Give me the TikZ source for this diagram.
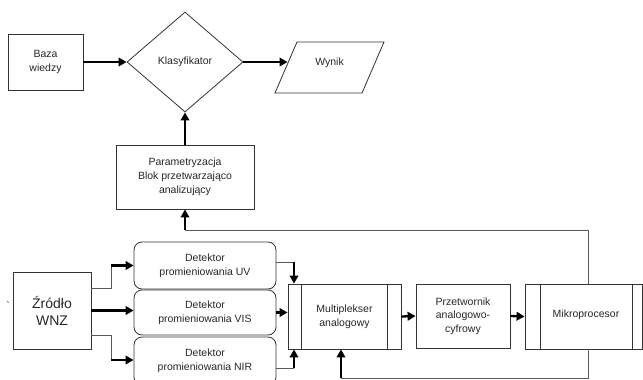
\documentclass[tikz,border=0pt]{standalone}
\usepackage{fontspec}
\setmainfont{Liberation Sans}
\usetikzlibrary{shapes.geometric,arrows.meta,calc}
\begin{document}
\begin{tikzpicture}[x=1pt,y=-1pt,
  txt/.style={font=\fontsize{10.5}{14}\selectfont,align=center,text=black!85},
  box/.style={txt,draw=black!80,line width=0.8pt,rectangle,inner sep=0pt},
  rbox/.style={box,rounded corners=8pt},
  wire/.style={draw=black!65,line width=0.9pt},
  arr/.style={draw=black,line width=2.3pt,-{Triangle[length=8pt,width=8.5pt]}}
]
\useasboundingbox (0,0) rectangle (643,380);
\clip (0,0) rectangle (643,380);

% top row
\node[box,minimum width=75pt,minimum height=56pt] (baza) at (45.5,62) {Baza\\wiedzy};
\node[txt,draw=black!80,line width=0.8pt,diamond,minimum width=116pt,minimum height=100pt,inner sep=0pt] (klas) at (185,62) {Klasyfikator};
\draw[draw=black!80,line width=0.8pt] (297,42) -- (384,42) -- (362,93) -- (275,93) -- cycle;
\node[txt] (wynik) at (329.5,63) {Wynik};
\coordinate (wynikin) at (287.5,62);

\node[box,minimum width=138pt,minimum height=64pt] (param) at (185,177) {Parametryzacja\\Blok przetwarzająco\\analizujący};

% bottom row
\node[box,minimum width=78pt,minimum height=77pt,font=\fontsize{14}{17}\selectfont] (zrodlo) at (52,310.5) {Źródło\\WNZ};
\node[txt] (tick) at (8,306) {\textasciigrave};

\node[rbox,minimum width=142pt,minimum height=47pt] (uv) at (205,265.5) {Detektor\\promieniowania UV};
\node[rbox,minimum width=142pt,minimum height=45pt] (vis) at (205,312.5) {Detektor\\promieniowania VIS};
\node[rbox,minimum width=142pt,minimum height=48pt] (nir) at (205,361) {Detektor\\promieniowania NIR};

\node[box,minimum width=113pt,minimum height=65pt] (mux) at (344.5,316.5) {Multiplekser\\analogowy};
\draw[draw=black!80,line width=0.8pt] ([xshift=14pt]mux.north west) -- ([xshift=14pt]mux.south west)
  ([xshift=-14pt]mux.north east) -- ([xshift=-14pt]mux.south east);

\node[box,minimum width=94pt,minimum height=64pt,font=\fontsize{10.5}{13.5}\selectfont] (adc) at (463,316) {Przetwornik\\analogowo-\\cyfrowy};

\node[box,minimum width=117pt,minimum height=65pt] (mikro) at (583.5,316.5) {};
\node[txt] (mikrotxt) at (586,315) {Mikroprocesor};
\draw[draw=black!80,line width=0.8pt] ([xshift=16pt]mikro.north west) -- ([xshift=16pt]mikro.south west)
  ([xshift=-10pt]mikro.north east) -- ([xshift=-10pt]mikro.south east);

% connectors top
\draw[arr] (baza.east) -- (klas.west);
\draw[arr] (klas.east) -- (wynikin);
\draw[arr] (param.north) -- (klas.south);
\coordinate (fb1) at (185,230);
\draw[wire] ([xshift=4.5pt]mikro.north) |- (fb1);
\draw[arr] (fb1) -- (param.south);

% source to detectors
\coordinate (k1) at (111,288);
\coordinate (k2) at (111,265.5);
\draw[wire] (k1 -| zrodlo.east) -- (k1) -- (k2);
\draw[arr] (k2) -- (uv.west);
\draw[arr] (zrodlo.east) -- (zrodlo.east -| vis.west);
\coordinate (k3) at (111,335);
\coordinate (k4) at (111,360);
\draw[wire] (k3 -| zrodlo.east) -- (k3) -- (k4);
\draw[arr] (k4) -- (k4 -| nir.west);

% detectors to multiplexer
\coordinate (m1) at (294,262);
\draw[wire] (m1 -| uv.east) -- (m1);
\draw[arr] (m1) -- (m1 |- mux.north);
\draw[arr] (vis.east) -- (vis.east -| mux.west);
\coordinate (m2) at (294,368);
\draw[wire] (m2 -| nir.east) -- (m2);
\draw[arr] (m2) -- (m2 |- mux.south);

% chain
\draw[arr] (mux.east) -- (adc.west);
\draw[arr] (adc.east) -- (mikro.west);

% feedback to multiplexer
\coordinate (f2) at (341,378);
\draw[wire] ([xshift=4.5pt]mikro.south) |- (f2);
\draw[arr] (f2) -- (f2 |- mux.south);
\end{tikzpicture}
\end{document}
